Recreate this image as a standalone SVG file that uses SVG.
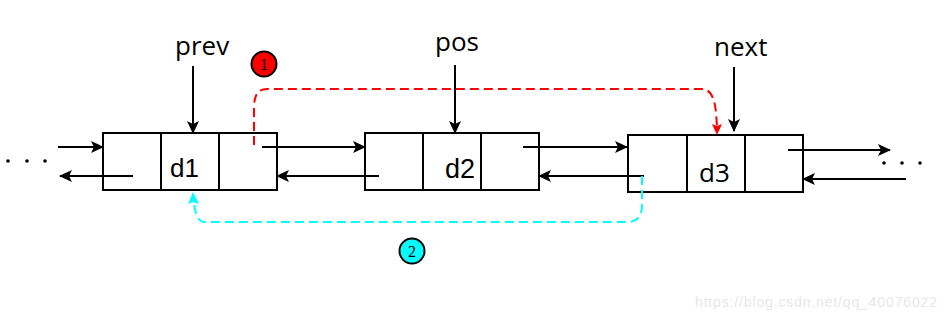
<svg xmlns="http://www.w3.org/2000/svg" width="947" height="318" viewBox="0 0 947 318">
<defs>
<marker id="ah" markerWidth="13" markerHeight="12" refX="12" refY="6" orient="auto" markerUnits="userSpaceOnUse"><path d="M0,0 L13,6 L0,12 L3,6 z" fill="#000"/></marker>
</defs>
<style>
.box{fill:#fff;stroke:#000;stroke-width:2}
.div{stroke:#000;stroke-width:2}
.ln{stroke:#000;stroke-width:2;fill:none;marker-end:url(#ah)}
.lbl{font-family:"Open Sans",sans-serif;font-size:26px;fill:#000}
.d{font-family:"Liberation Sans",Arial,sans-serif;font-size:26px;fill:#000}
.dot{fill:#000}
.num{font-family:"Liberation Serif",serif;font-size:16px;fill:#000;text-anchor:middle}
</style>
<rect width="947" height="318" fill="#fff"/>
<g id="node1">
<rect class="box" x="103" y="133" width="174" height="57"/>
<line class="div" x1="161" y1="133" x2="161" y2="190"/>
<line class="div" x1="219" y1="133" x2="219" y2="190"/>
<text class="d" x="170" y="177">d1</text>
</g>
<g id="node2">
<rect class="box" x="365" y="133" width="174" height="57"/>
<line class="div" x1="423" y1="133" x2="423" y2="190"/>
<line class="div" x1="481" y1="133" x2="481" y2="190"/>
<text class="d" x="445" y="178" style="font-size:27px">d2</text>
</g>
<g id="node3">
<rect class="box" x="628" y="135" width="175" height="57"/>
<line class="div" x1="687" y1="135" x2="687" y2="192"/>
<line class="div" x1="745" y1="135" x2="745" y2="192"/>
<text class="lbl" x="699" y="182">d3</text>
</g>
<g id="label-prev"><text class="lbl" x="175" y="55">prev</text></g>
<g id="label-pos"><text class="lbl" x="435" y="51">pos</text></g>
<g id="label-next"><text class="lbl" x="714" y="56">next</text></g>
<g id="dots-left">
<circle class="dot" cx="8" cy="161" r="1.8"/>
<circle class="dot" cx="27" cy="161" r="1.8"/>
<circle class="dot" cx="45" cy="161" r="1.8"/>
</g>
<g id="dots-right">
<circle class="dot" cx="884" cy="163" r="1.8"/>
<circle class="dot" cx="902" cy="163" r="1.8"/>
<circle class="dot" cx="920" cy="163" r="1.8"/>
</g>
<g id="badge1">
<circle cx="264" cy="64" r="12.5" fill="#f00" stroke="#000" stroke-width="2"/>
<text class="num" x="264" y="69.5">1</text>
</g>
<g id="badge2">
<circle cx="412" cy="251" r="12.5" fill="#0ff" stroke="#000" stroke-width="2"/>
<text class="num" x="412" y="256.5">2</text>
</g>
<g id="connectors">
<line class="ln" x1="58" y1="147" x2="103" y2="147"/>
<line class="ln" x1="133" y1="176" x2="60" y2="176"/>
<line class="ln" x1="262" y1="147" x2="365" y2="147"/>
<line class="ln" x1="379" y1="176" x2="277" y2="176"/>
<line class="ln" x1="523" y1="147" x2="627" y2="147"/>
<line class="ln" x1="644" y1="176" x2="539" y2="176"/>
<line class="ln" x1="788" y1="150" x2="890" y2="150"/>
<line class="ln" x1="906" y1="179" x2="803" y2="179"/>
<line class="ln" x1="193" y1="66" x2="193" y2="133"/>
<line class="ln" x1="455" y1="65" x2="455" y2="133"/>
<line class="ln" x1="734" y1="67" x2="734" y2="131"/>
<path d="M254,145 L254,108 C254,95 258,89 267,89 L702,89 C710,89 714,96 716,112 L717,126" fill="none" stroke="#f00" stroke-width="2" stroke-dasharray="9,5"/>
<path d="M717,135 L712,124 L717,126 L722,124 z" fill="#f00"/>
<path d="M642,176 L642,205 C642,216 637,222 628,222 L205,222 C198,222 195,214 194,202" fill="none" stroke="#0ff" stroke-width="2" stroke-dasharray="9,5"/>
<path d="M193,192 L188,204 L193,202 L199,204 z" fill="#0ff"/>
</g>
<text x="695" y="307" font-family="Liberation Sans,Arial,sans-serif" font-size="14" fill="#e8e8e8" textLength="242">https://blog.csdn.net/qq_40076022</text>
</svg>
